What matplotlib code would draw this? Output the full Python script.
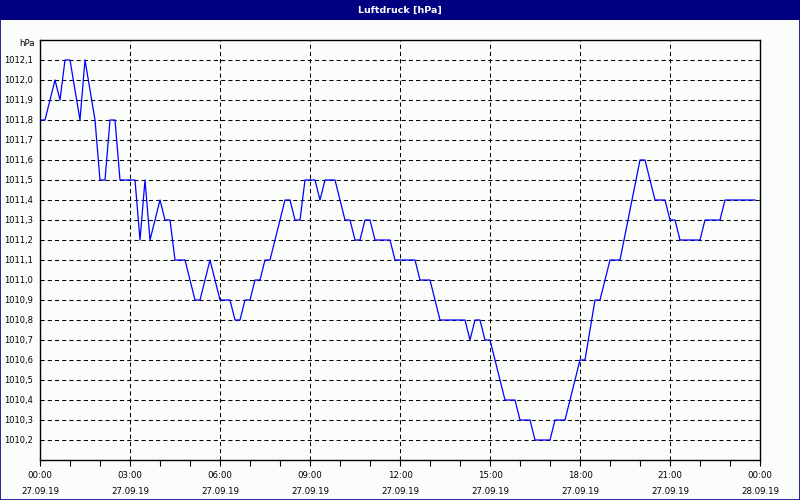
import numpy as np
import matplotlib
matplotlib.use("Agg")
import matplotlib.pyplot as plt
from matplotlib.patches import Rectangle
from matplotlib.ticker import MultipleLocator, FixedLocator

# pressure readings: minutes after 27.09.19 00:00 and value in hPa (vertices of the curve)
minutes = [0, 10, 30, 40, 50, 60, 80, 90, 110, 120, 130, 140, 150, 160, 190, 200,
           210, 220, 240, 250, 260, 270, 290, 310, 320, 340, 360, 380, 390, 400,
           410, 420, 430, 440, 450, 460, 490, 500, 510, 520, 530, 550, 560, 570,
           590, 610, 620, 630, 640, 650, 660, 670, 700, 710, 750, 760, 780, 800,
           850, 860, 870, 880, 890, 900, 930, 950, 960, 980, 990, 1020, 1030,
           1050, 1080, 1090, 1110, 1120, 1140, 1160, 1200, 1210, 1230, 1250,
           1260, 1270, 1280, 1320, 1330, 1360, 1370, 1430]
pressure = [1011.8, 1011.8, 1012.0, 1011.9, 1012.1, 1012.1, 1011.8, 1012.1, 1011.8,
            1011.5, 1011.5, 1011.8, 1011.8, 1011.5, 1011.5, 1011.2, 1011.5, 1011.2,
            1011.4, 1011.3, 1011.3, 1011.1, 1011.1, 1010.9, 1010.9, 1011.1, 1010.9,
            1010.9, 1010.8, 1010.8, 1010.9, 1010.9, 1011.0, 1011.0, 1011.1, 1011.1,
            1011.4, 1011.4, 1011.3, 1011.3, 1011.5, 1011.5, 1011.4, 1011.5, 1011.5,
            1011.3, 1011.3, 1011.2, 1011.2, 1011.3, 1011.3, 1011.2, 1011.2, 1011.1,
            1011.1, 1011.0, 1011.0, 1010.8, 1010.8, 1010.7, 1010.8, 1010.8, 1010.7,
            1010.7, 1010.4, 1010.4, 1010.3, 1010.3, 1010.2, 1010.2, 1010.3, 1010.3,
            1010.6, 1010.6, 1010.9, 1010.9, 1011.1, 1011.1, 1011.6, 1011.6, 1011.4,
            1011.4, 1011.3, 1011.3, 1011.2, 1011.2, 1011.3, 1011.3, 1011.4, 1011.4]

tick_minutes = [0, 180, 360, 540, 720, 900, 1080, 1260, 1440]
tick_times = ["00:00", "03:00", "06:00", "09:00", "12:00", "15:00", "18:00", "21:00", "00:00"]
tick_dates = ["27.09.19"] * 8 + ["28.09.19"]
y_ticks = [round(1010.2 + 0.1 * i, 1) for i in range(20)]

navy = "#000080"
bg = "#FBFDFB"
plt.rcParams["lines.scale_dashes"] = False

fig = plt.figure(figsize=(8, 5), dpi=100, facecolor=bg)
# title bar and window frame
fig.patches.append(Rectangle((0, 0.96), 1, 0.04, transform=fig.transFigure,
                             facecolor=navy, edgecolor="none", zorder=0))
fig.patches.append(Rectangle((0.0006, 0.001), 0.9988, 0.998, transform=fig.transFigure,
                             facecolor="none", edgecolor=navy, lw=1.2, zorder=5))
fig.text(0.5, 0.98, "Luftdruck [hPa]", color="white", fontsize=6.8, fontweight="bold",
         ha="center", va="center")

ax = fig.add_axes([0.05, 0.08, 0.90, 0.84], facecolor=bg)
ax.plot(minutes, pressure, color="#0000FF", lw=0.9, zorder=3)

ax.set_xlim(0, 1440)
ax.set_ylim(1010.1, 1012.2)

ax.xaxis.set_major_locator(FixedLocator(tick_minutes))
ax.set_xticklabels([t + "\n" + d for t, d in zip(tick_times, tick_dates)],
                   fontsize=6.2, linespacing=2.0)
ax.xaxis.set_minor_locator(MultipleLocator(60))
ax.tick_params(axis="x", which="both", direction="out", length=4, width=0.8, pad=4)

ax.set_yticks(y_ticks)
ax.set_yticklabels([f"{v:.1f}".replace(".", ",") for v in y_ticks], fontsize=6.0)
ax.tick_params(axis="y", length=0, pad=5)

for v in y_ticks:
    ax.axhline(v, color="black", lw=0.75, dashes=(3, 2.2), zorder=1)
for m in tick_minutes[1:-1]:
    ax.axvline(m, color="black", lw=0.75, dashes=(3, 2.2), zorder=1)

for s in ax.spines.values():
    s.set_linewidth(1.0)
    s.set_color("black")

fig.text(0.043, 0.912, "hPa", fontsize=6.2, ha="right", va="center")

fig.savefig("out.png", dpi=100, facecolor=bg)
